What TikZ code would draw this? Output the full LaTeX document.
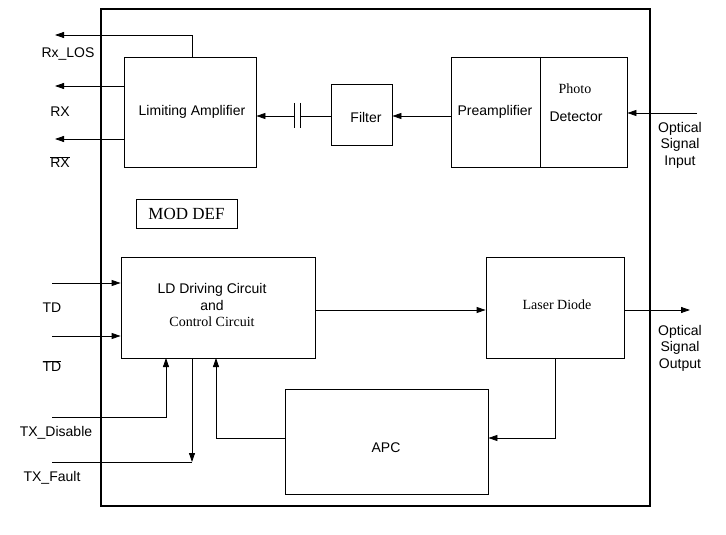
\documentclass[tikz,border=0pt]{standalone}
\usepackage{fontspec}
\setmainfont{Liberation Sans}
\newfontfamily\serf{Liberation Serif}
\usetikzlibrary{arrows.meta}
\begin{document}
\begin{tikzpicture}[x=1pt,y=-1pt,
  box/.style={draw,line width=0.8pt,inner sep=0pt},
  lab/.style={font=\fontsize{14}{16.5}\selectfont,inner sep=1pt},
  arr/.style={-{Triangle[length=9pt,width=6pt]},line width=0.8pt},
  ln/.style={line width=0.8pt}]
\useasboundingbox (0,0) rectangle (726,535);
\draw[line width=1.6pt] (101,9) rectangle (650,506);
\node[box,minimum width=132pt,minimum height=110pt] (la) at (190,112) {};
\node[lab] at (192,112) {Limiting Amplifier};
\node[box,minimum width=61pt,minimum height=61pt] (fi) at (361.5,114.5) {};
\node[lab] at (366,117) {Filter};
\node[box,minimum width=176pt,minimum height=110pt] (pd) at (539,112) {};
\draw[ln] (540,57) -- (540,167);
\node[lab] at (495,112) {Preamplifier};
\node[lab,font=\serf\fontsize{14}{16}\selectfont] at (575,89) {Photo};
\node[lab] at (576,117) {Detector};
\node[box,minimum width=101pt,minimum height=29pt] (md) at (186.5,213.5) {};
\node[lab,font=\serf\fontsize{17}{19}\selectfont] at (186.5,213.5) {MOD DEF};
\node[box,minimum width=194pt,minimum height=101pt] (ld) at (218,307.5) {};
\node[lab,align=center] at (212,305) {LD Driving Circuit\\and\\\serf Control Circuit};
\node[box,minimum width=138pt,minimum height=101pt] (lz) at (555,307.5) {};
\node[lab,font=\serf\fontsize{14}{16}\selectfont] at (557,305) {Laser Diode};
\node[box,minimum width=203pt,minimum height=105pt] (apc) at (386.5,441.5) {};
\node[lab] at (386,448) {APC};
% outputs left
\coordinate (los) at (55,35);
\draw[arr] (192,57) -- (192,35) -- (los);
\coordinate (rx) at (55,86);
\draw[arr] (la.west |- 0,86) -- (rx);
\coordinate (rxb) at (55,139);
\draw[arr] (la.west |- 0,139) -- (rxb);
\node[lab] at (68,54) {Rx\_LOS};
\node[lab] at (60,112) {RX};
\node[lab] at (60,162) {$\overline{\mbox{RX}}$};
% filter chain
\coordinate (c1) at (300,116); \coordinate (c2) at (294,116);
\draw[ln] (fi.west |- 0,116) -- (c1);
\draw[arr] (c2) -- (la.east |- 0,116);
\draw[ln] (294,103) -- (294,128) (300,103) -- (300,128);
\draw[arr] (pd.west |- 0,116) -- (fi.east |- 0,116);
\coordinate (oin) at (697,113);
\draw[arr] (oin) -- (pd.east |- 0,113);
\node[lab,align=center] at (680,145) {Optical\\Signal\\Input};
% TD inputs
\coordinate (td) at (52,283); \coordinate (tdb) at (52,336);
\draw[arr] (td) -- (ld.west |- 0,283);
\draw[arr] (tdb) -- (ld.west |- 0,336);
\node[lab] at (52,308) {TD};
\node[lab] at (52,366) {$\overline{\mbox{TD}}$};
\coordinate (dis) at (52,417);
\draw[arr] (dis) -- (166,417) -- (166,358);
\node[lab] at (56,433) {TX\_Disable};
\coordinate (flt) at (52,462);
\draw[ln] (flt) -- (192,462);
\draw[arr] (192,358) -- (192,462);
\node[lab] at (52,478) {TX\_Fault};
\draw[arr] (apc.west |- 0,438) -- (216,438) -- (216,358);
\draw[arr] (ld.east |- 0,310) -- (lz.west |- 0,310);
\draw[arr] (555,358) -- (555,438) -- (apc.east |- 0,438);
\coordinate (oout) at (690,310);
\draw[arr] (lz.east |- 0,310) -- (oout);
\node[lab,align=center] at (680,348) {Optical\\Signal\\Output};
\end{tikzpicture}
\end{document}
